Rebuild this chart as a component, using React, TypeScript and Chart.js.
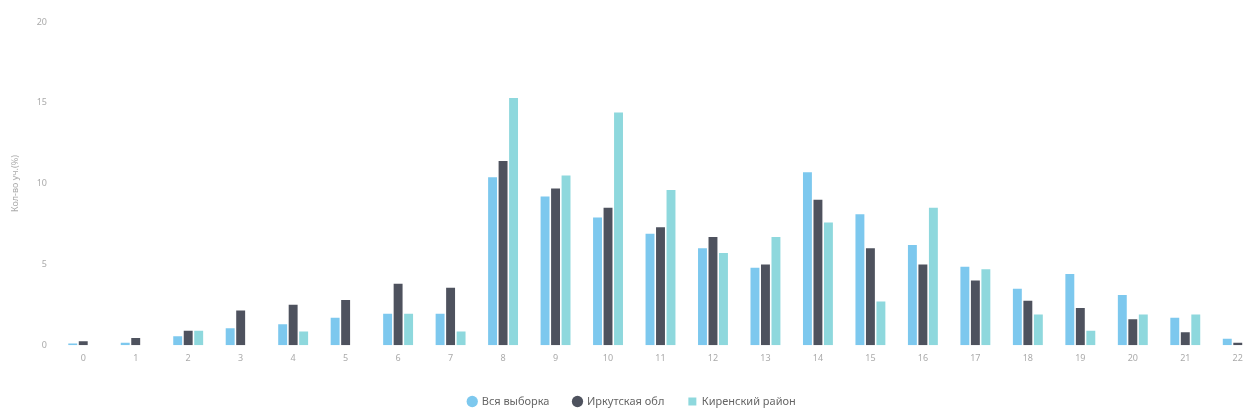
import React, { useEffect, useRef } from "react";
import { Chart, registerables } from "chart.js";

Chart.register(...registerables);

const categories = ["0","1","2","3","4","5","6","7","8","9","10","11","12","13","14","15","16","17","18","19","20","21","22"];
const seriesNames = ["Вся выборка", "Иркутская обл", "Киренский район"];
const allSample = [0.1, 0.15, 0.55, 1.05, 1.3, 1.7, 1.95, 1.95, 10.4, 9.2, 7.9, 6.9, 6.0, 4.8, 10.7, 8.1, 6.2, 4.85, 3.5, 4.4, 3.1, 1.7, 0.4];
const irkutsk = [0.25, 0.45, 0.9, 2.15, 2.5, 2.8, 3.8, 3.55, 11.4, 9.7, 8.5, 7.3, 6.7, 5.0, 9.0, 6.0, 5.0, 4.0, 2.75, 2.3, 1.6, 0.8, 0.15];
const kirensk = [0, 0, 0.9, 0, 0.85, 0, 1.95, 0.85, 15.3, 10.5, 14.4, 9.6, 5.7, 6.7, 7.6, 2.7, 8.5, 4.7, 1.9, 0.9, 1.9, 1.9, 0];
const yTicks = [0, 5, 10, 15, 20];
const yTitle = "Кол-во уч.(%)";

export default function App() {
  const ref = useRef<HTMLCanvasElement | null>(null);
  useEffect(() => {
    if (!ref.current) return;
    const chart = new Chart(ref.current, {
      type: "bar",
      data: {
        labels: categories,
        datasets: [
          { label: seriesNames[0], data: allSample, backgroundColor: "rgb(125,200,238)", pointStyle: "circle", categoryPercentage: 0.6, barPercentage: 0.85 },
          { label: seriesNames[1], data: irkutsk, backgroundColor: "rgb(78,82,94)", pointStyle: "circle", categoryPercentage: 0.6, barPercentage: 0.85 },
          { label: seriesNames[2], data: kirensk, backgroundColor: "rgb(142,216,221)", pointStyle: "rect", categoryPercentage: 0.6, barPercentage: 0.85 },
        ],
      },
      options: {
        responsive: false,
        animation: false,
        layout: { padding: { top: 22, right: 6, bottom: 0, left: 0 } },
        plugins: {
          legend: {
            position: "bottom",
            labels: {
              usePointStyle: true,
              boxWidth: 8,
              boxHeight: 8,
              padding: 24,
              color: "#666",
              font: { family: "Noto Sans", size: 11 },
            },
          },
          tooltip: { enabled: false },
        },
        scales: {
          x: {
            grid: { display: false, drawTicks: false },
            border: { display: false },
            ticks: { color: "#aaa", font: { family: "Noto Sans", size: 9 }, padding: 8 },
          },
          y: {
            min: 0,
            max: 20,
            afterBuildTicks: (s: any) => { s.ticks = yTicks.map((v) => ({ value: v })); },
            afterFit: (s: any) => { s.width = 57; },
            grid: { display: false, drawTicks: false },
            border: { display: false },
            ticks: { color: "#aaa", font: { family: "Noto Sans", size: 9 }, padding: 10 },
            title: { display: true, text: yTitle, color: "#aaa", font: { family: "Noto Sans", size: 9 }, padding: { top: 10, bottom: 0 } },
          },
        },
      },
    });
    return () => chart.destroy();
  }, []);
  return (
    <div style={{ position: "fixed", left: 0, top: 0, width: 1270, height: 417, background: "#fff" }}>
      <canvas ref={ref} width={1270} height={417} />
    </div>
  );
}
